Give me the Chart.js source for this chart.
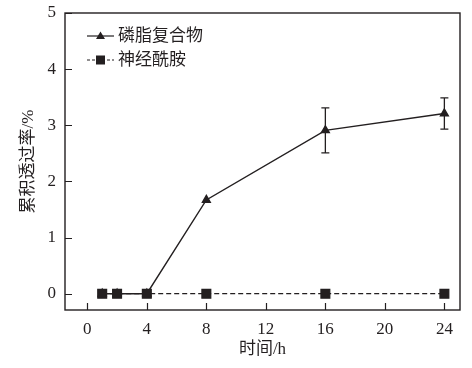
<!DOCTYPE html>
<html>
<head>
<meta charset="utf-8">
<script src="https://cdn.jsdelivr.net/npm/chart.js@4.4.0/dist/chart.umd.min.js"></script>
<style>
  html, body { margin: 0; padding: 0; background: #fff; }
  #wrap { width: 472px; height: 368px; }
</style>
</head>
<body>
<div id="wrap"><canvas id="chart"></canvas></div>
<script>
// data
const hours = [1, 2, 4, 8, 16, 24];
const phosphoComplex = [0, 0, 0, 1.67, 2.91, 3.21];
const phosphoErr = [0, 0, 0, 0, 0.40, 0.28];
const ceramide = [0, 0, 0, 0, 0, 0];
const xTicks = [0, 4, 8, 12, 16, 20, 24];
const yTicks = [0, 1, 2, 3, 4, 5];
const seriesNames = ['磷脂复合物', '神经酰胺'];

const ink = '#231f20';
const fontFam = "'Liberation Serif', 'Noto Sans CJK SC', serif";

const toPts = (ys) => hours.map((h, i) => ({ x: h, y: ys[i] }));

// frame, inward ticks, error bars and legend
const extras = {
  id: 'extras',
  afterDatasetsDraw(chart) {
    const { ctx, chartArea: a, scales: { x, y } } = chart;
    ctx.save();
    ctx.strokeStyle = ink;
    ctx.lineWidth = 1.4;
    ctx.strokeRect(a.left, a.top, a.right - a.left, a.bottom - a.top);

    ctx.lineWidth = 1.2;
    ctx.beginPath();
    xTicks.forEach(t => {
      const px = Math.round(x.getPixelForValue(t)) + 0.5;
      ctx.moveTo(px, a.bottom); ctx.lineTo(px, a.bottom - 7);
    });
    yTicks.forEach(t => {
      const py = Math.round(y.getPixelForValue(t)) + 0.5;
      ctx.moveTo(a.left, py); ctx.lineTo(a.left + 7, py);
    });
    ctx.stroke();

    // error bars
    ctx.lineWidth = 1.3;
    ctx.beginPath();
    hours.forEach((h, i) => {
      if (!phosphoErr[i]) return;
      const px = x.getPixelForValue(h);
      const top = y.getPixelForValue(phosphoComplex[i] + phosphoErr[i]);
      const bot = y.getPixelForValue(phosphoComplex[i] - phosphoErr[i]);
      ctx.moveTo(px, top); ctx.lineTo(px, bot);
      ctx.moveTo(px - 4, top); ctx.lineTo(px + 4, top);
      ctx.moveTo(px - 4, bot); ctx.lineTo(px + 4, bot);
    });
    ctx.stroke();

    // legend
    const lx0 = a.left + 22, lx1 = a.left + 49;
    const rows = [a.top + 23, a.top + 47];
    ctx.fillStyle = ink;
    rows.forEach((ry, i) => {
      ctx.beginPath();
      ctx.setLineDash(i === 1 ? [3, 2] : []);
      ctx.lineWidth = 1.2;
      ctx.moveTo(lx0, ry); ctx.lineTo(lx1, ry);
      ctx.stroke();
      ctx.setLineDash([]);
      const cx = (lx0 + lx1) / 2;
      ctx.beginPath();
      if (i === 0) {
        ctx.moveTo(cx, ry - 4.5); ctx.lineTo(cx + 4.5, ry + 3); ctx.lineTo(cx - 4.5, ry + 3);
      } else {
        ctx.rect(cx - 4.5, ry - 4.5, 9, 9);
      }
      ctx.fill();
      ctx.font = "17px " + fontFam;
      ctx.textBaseline = 'middle';
      ctx.fillText(seriesNames[i], lx1 + 4, ry + 1);
    });
    ctx.restore();
  }
};

new Chart(document.getElementById('chart'), {
  type: 'line',
  data: {
    datasets: [
      {
        label: seriesNames[1],
        data: toPts(ceramide),
        borderColor: ink,
        backgroundColor: ink,
        borderWidth: 1.3,
        borderDash: [5, 3],
        pointStyle: 'rect',
        pointRadius: 6.2,
        pointHoverRadius: 6.2,
        order: 0
      },
      {
        label: seriesNames[0],
        data: toPts(phosphoComplex),
        borderColor: ink,
        backgroundColor: ink,
        borderWidth: 1.4,
        pointStyle: 'triangle',
        pointRadius: 4.5,
        pointHoverRadius: 4.5,
        order: 1
      }
    ]
  },
  options: {
    responsive: true,
    maintainAspectRatio: false,
    animation: false,
    events: [],
    layout: { padding: { left: 0, right: 12, top: 13, bottom: 0 } },
    plugins: { legend: { display: false }, tooltip: { enabled: false } },
    scales: {
      x: {
        type: 'linear',
        min: -1.5,
        max: 25.05,
        afterBuildTicks: (s) => { s.ticks = xTicks.map(v => ({ value: v })); },
        afterFit: (s) => { s.height = 58; s.paddingLeft = 0; s.paddingRight = 0; },
        grid: { display: false, drawTicks: false },
        border: { display: false },
        ticks: { color: ink, font: { family: fontFam, size: 17 }, padding: 9, maxRotation: 0 },
        title: {
          display: true, text: '时间/h', color: ink,
          font: { family: fontFam, size: 17 }, padding: { top: 0, bottom: 8 }
        }
      },
      y: {
        min: -0.29,
        max: 5,
        afterBuildTicks: (s) => { s.ticks = yTicks.map(v => ({ value: v })); },
        afterFit: (s) => { s.width = 65; s.paddingTop = 0; s.paddingBottom = 0; },
        grid: { display: false, drawTicks: false },
        border: { display: false },
        ticks: { color: ink, font: { family: fontFam, size: 17 }, padding: 9 },
        title: {
          display: true, text: '累积透过率/%', color: ink,
          font: { family: fontFam, size: 17 }, padding: { top: 18, bottom: 0 }
        }
      }
    }
  },
  plugins: [extras]
});
</script>
</body>
</html>
